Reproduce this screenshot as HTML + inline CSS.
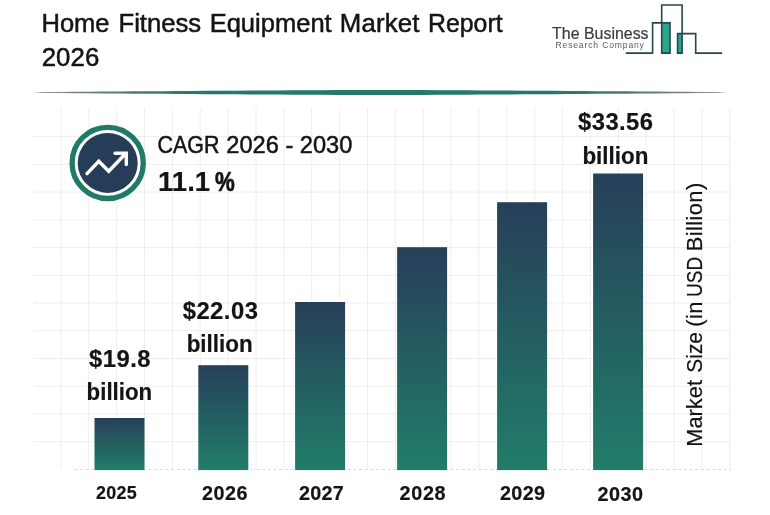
<!DOCTYPE html>
<html lang="en">
<head>
<meta charset="utf-8">
<title>Home Fitness Equipment Market Report 2026</title>
<style>
html,body{margin:0;padding:0;background:#fff;}
body{width:770px;height:515px;overflow:hidden;font-family:"Liberation Sans",sans-serif;}
svg{display:block;}
text{font-family:"Liberation Sans",sans-serif;fill:#141414;stroke:#141414;stroke-width:0.5px;stroke-linejoin:round;}
.b{font-weight:700;stroke-width:0.2px;}
</style>
</head>
<body>
<svg width="770" height="515" viewBox="0 0 770 515">
<defs>
<linearGradient id="bar" x1="0" y1="0" x2="0" y2="1">
<stop offset="0" stop-color="#273f59"/>
<stop offset="1" stop-color="#217d69"/>
</linearGradient>
<linearGradient id="rule" x1="0" y1="0" x2="1" y2="0">
<stop offset="0" stop-color="#6a7272" stop-opacity="0"/>
<stop offset="0.015" stop-color="#6a7272" stop-opacity="0.75"/>
<stop offset="0.08" stop-color="#566d69" stop-opacity="0.9"/>
<stop offset="0.25" stop-color="#23796a"/>
<stop offset="0.75" stop-color="#23796a"/>
<stop offset="0.92" stop-color="#566d69" stop-opacity="0.9"/>
<stop offset="0.985" stop-color="#6a7272" stop-opacity="0.75"/>
<stop offset="1" stop-color="#6a7272" stop-opacity="0"/>
</linearGradient>
</defs>
<rect width="770" height="515" fill="#fff"/>

<!-- grid -->
<g stroke="#eeeeee" stroke-width="1" fill="none">
<line x1="60.9" y1="107.5" x2="60.9" y2="469.5"/>
<line x1="88.8" y1="107.5" x2="88.8" y2="469.5"/>
<line x1="116.6" y1="107.5" x2="116.6" y2="469.5"/>
<line x1="144.5" y1="107.5" x2="144.5" y2="469.5"/>
<line x1="172.4" y1="107.5" x2="172.4" y2="469.5"/>
<line x1="200.2" y1="107.5" x2="200.2" y2="469.5"/>
<line x1="228.1" y1="107.5" x2="228.1" y2="469.5"/>
<line x1="256.0" y1="107.5" x2="256.0" y2="469.5"/>
<line x1="283.9" y1="107.5" x2="283.9" y2="469.5"/>
<line x1="311.7" y1="107.5" x2="311.7" y2="469.5"/>
<line x1="339.6" y1="107.5" x2="339.6" y2="469.5"/>
<line x1="367.5" y1="107.5" x2="367.5" y2="469.5"/>
<line x1="395.3" y1="107.5" x2="395.3" y2="469.5"/>
<line x1="423.2" y1="107.5" x2="423.2" y2="469.5"/>
<line x1="451.1" y1="107.5" x2="451.1" y2="469.5"/>
<line x1="478.9" y1="107.5" x2="478.9" y2="469.5"/>
<line x1="506.8" y1="107.5" x2="506.8" y2="469.5"/>
<line x1="534.7" y1="107.5" x2="534.7" y2="469.5"/>
<line x1="562.6" y1="107.5" x2="562.6" y2="469.5"/>
<line x1="590.4" y1="107.5" x2="590.4" y2="469.5"/>
<line x1="618.3" y1="107.5" x2="618.3" y2="469.5"/>
<line x1="646.2" y1="107.5" x2="646.2" y2="469.5"/>
<line x1="674.0" y1="107.5" x2="674.0" y2="469.5"/>
<line x1="701.9" y1="107.5" x2="701.9" y2="469.5"/>
<line x1="729.8" y1="107.5" x2="729.8" y2="469.5"/>
<line x1="33.4" y1="136.6" x2="731" y2="136.6"/>
<line x1="33.4" y1="164.4" x2="731" y2="164.4"/>
<line x1="33.4" y1="192.1" x2="731" y2="192.1"/>
<line x1="33.4" y1="219.8" x2="731" y2="219.8"/>
<line x1="33.4" y1="247.6" x2="731" y2="247.6"/>
<line x1="33.4" y1="275.3" x2="731" y2="275.3"/>
<line x1="33.4" y1="303.0" x2="731" y2="303.0"/>
<line x1="33.4" y1="330.7" x2="731" y2="330.7"/>
<line x1="33.4" y1="358.5" x2="731" y2="358.5"/>
<line x1="33.4" y1="386.2" x2="731" y2="386.2"/>
<line x1="33.4" y1="413.9" x2="731" y2="413.9"/>
<line x1="33.4" y1="441.7" x2="731" y2="441.7"/>
</g>

<!-- header rule -->
<path d="M31.5 92.15 L46.0 92.03 L60.5 91.92 L75.1 91.80 L89.6 91.69 L104.1 91.58 L118.6 91.47 L133.1 91.36 L147.7 91.26 L162.2 91.15 L176.7 91.05 L191.2 90.95 L205.8 90.85 L220.3 90.75 L234.8 90.65 L249.3 90.56 L263.8 90.47 L278.4 90.38 L292.9 90.30 L307.4 90.22 L321.9 90.14 L336.4 90.07 L351.0 90.00 L365.5 89.94 L380.0 89.90 L394.5 89.94 L409.0 90.00 L423.6 90.07 L438.1 90.14 L452.6 90.22 L467.1 90.30 L481.6 90.38 L496.2 90.47 L510.7 90.56 L525.2 90.65 L539.7 90.75 L554.2 90.85 L568.8 90.95 L583.3 91.05 L597.8 91.15 L612.3 91.26 L626.9 91.36 L641.4 91.47 L655.9 91.58 L670.4 91.69 L684.9 91.80 L699.5 91.92 L714.0 92.03 L728.5 92.15 L728.5 92.85 L714.0 92.97 L699.5 93.08 L684.9 93.20 L670.4 93.31 L655.9 93.42 L641.4 93.53 L626.9 93.64 L612.3 93.74 L597.8 93.85 L583.3 93.95 L568.8 94.05 L554.2 94.15 L539.7 94.25 L525.2 94.35 L510.7 94.44 L496.2 94.53 L481.6 94.62 L467.1 94.70 L452.6 94.78 L438.1 94.86 L423.6 94.93 L409.0 95.00 L394.5 95.06 L380.0 95.10 L365.5 95.06 L351.0 95.00 L336.4 94.93 L321.9 94.86 L307.4 94.78 L292.9 94.70 L278.4 94.62 L263.8 94.53 L249.3 94.44 L234.8 94.35 L220.3 94.25 L205.8 94.15 L191.2 94.05 L176.7 93.95 L162.2 93.85 L147.7 93.74 L133.1 93.64 L118.6 93.53 L104.1 93.42 L89.6 93.31 L75.1 93.20 L60.5 93.08 L46.0 92.97 L31.5 92.85Z" fill="url(#rule)"/>

<!-- title -->
<text y="32.3" font-size="25.8"><tspan x="41.45" textLength="68.16" lengthAdjust="spacingAndGlyphs">Home</tspan> <tspan x="118.49" textLength="82.72" lengthAdjust="spacingAndGlyphs">Fitness</tspan> <tspan x="209.66" textLength="122.02" lengthAdjust="spacingAndGlyphs">Equipment</tspan> <tspan x="339.85" textLength="79.49" lengthAdjust="spacing">Market</tspan> <tspan x="428.00" textLength="74.59" lengthAdjust="spacingAndGlyphs">Report</tspan></text>
<text x="41.67" y="66.0" font-size="25.8" textLength="57.62" lengthAdjust="spacing">2026</text>

<!-- logo -->
<g id="logo">
<text x="552.12" y="38.8" font-size="17.4" style="fill:#3a3a3a;stroke:#3a3a3a;stroke-width:0.2px" textLength="96.46" lengthAdjust="spacingAndGlyphs">The Business</text>
<text x="555.47" y="48.2" font-size="8.6" style="fill:#5a5a5a;stroke:#5a5a5a;stroke-width:0px" textLength="88.45" lengthAdjust="spacing">Research Company</text>
<rect x="661.7" y="22.9" width="8.3" height="30.2" fill="#2aa68b"/>
<rect x="677.6" y="33.6" width="4.5" height="19.5" fill="#2aa68b"/>
<g fill="none" stroke="#24474f" stroke-width="1.6" stroke-linejoin="miter">
<path d="M625.7 53.1H652.6V22.9H670V53.1H661.7V5H682.1V53.1H677.6V33.6H695.7V53.1H722.1"/>
</g>
</g>

<!-- CAGR badge -->
<circle cx="107.7" cy="162.9" r="35.6" fill="none" stroke="#1f7b67" stroke-width="5.3"/>
<circle cx="107.7" cy="162.9" r="30" fill="#253d57"/>
<g fill="none" stroke="#fff" stroke-width="3.4" stroke-linecap="round" stroke-linejoin="miter">
<path d="M87 173.6L98.8 161.3L108.7 171.2L125.5 153.8"/>
<path d="M115 153.3H126.3V164.6"/>
</g>
<text y="153.2" font-size="23.8"><tspan x="157.47" textLength="61.91" lengthAdjust="spacingAndGlyphs">CAGR</tspan> <tspan x="226.29" textLength="126.08" lengthAdjust="spacingAndGlyphs">2026 - 2030</tspan></text>
<text class="b" y="191.4" font-size="27.8"><tspan x="158.09" textLength="52.07" lengthAdjust="spacingAndGlyphs">11.1</tspan><tspan x="214.93" style="stroke-width:0.7px" textLength="19.77" lengthAdjust="spacingAndGlyphs">%</tspan></text>

<!-- bars -->
<line x1="74" y1="469.5" x2="731" y2="469.5" stroke="#dcdcdc" stroke-width="1" stroke-dasharray="3.2 2.5"/>
<g fill="url(#bar)">
<rect x="94.5" y="418.0" width="50" height="52.1"/>
<rect x="198.3" y="365.2" width="50" height="104.9"/>
<rect x="295.1" y="302.0" width="50" height="168.1"/>
<rect x="397.1" y="247.2" width="50" height="222.9"/>
<rect x="497.1" y="202.2" width="50" height="267.9"/>
<rect x="593.1" y="173.5" width="50" height="296.6"/>
</g>

<!-- value labels -->
<text class="b" x="88.96" y="367.2" font-size="23.8" textLength="61.61" lengthAdjust="spacing">$19.8</text>
<text class="b" x="86.61" y="399.9" font-size="23.8" textLength="65.55" lengthAdjust="spacingAndGlyphs">billion</text>
<text class="b" x="182.65" y="318.9" font-size="23.8" textLength="75.25" lengthAdjust="spacing">$22.03</text>
<text class="b" x="186.66" y="351.9" font-size="23.8" textLength="66.04" lengthAdjust="spacingAndGlyphs">billion</text>
<text class="b" x="578.11" y="130.2" font-size="23.8" textLength="74.87" lengthAdjust="spacing">$33.56</text>
<text class="b" x="582.44" y="163.6" font-size="23.8" textLength="65.95" lengthAdjust="spacingAndGlyphs">billion</text>

<!-- x axis labels -->
<text class="b" x="95.92" y="498.6" font-size="17.9" textLength="40.89" lengthAdjust="spacing">2025</text>
<text class="b" x="202.12" y="500.1" font-size="19.8" textLength="45.44" lengthAdjust="spacing">2026</text>
<text class="b" x="299.01" y="499.9" font-size="19.8" textLength="44.80" lengthAdjust="spacing">2027</text>
<text class="b" x="399.62" y="499.6" font-size="19.8" textLength="45.91" lengthAdjust="spacing">2028</text>
<text class="b" x="499.95" y="499.5" font-size="19.8" textLength="45.19" lengthAdjust="spacing">2029</text>
<text class="b" x="597.49" y="501.0" font-size="19.8" textLength="45.50" lengthAdjust="spacing">2030</text>

<!-- y axis label -->
<text transform="translate(701.8 0) rotate(-90)" y="0" font-size="21.8" style="stroke-width:0.2px"><tspan x="-446.84" textLength="66.88" lengthAdjust="spacing">Market</tspan> <tspan x="-372.64" textLength="40.51" lengthAdjust="spacingAndGlyphs">Size</tspan> <tspan x="-326.63" textLength="24.94" lengthAdjust="spacing">(in</tspan> <tspan x="-297.09" textLength="40.24" lengthAdjust="spacingAndGlyphs">USD</tspan> <tspan x="-251.25" textLength="68.43" lengthAdjust="spacing">Billion)</tspan></text>
</svg>
</body>
</html>
